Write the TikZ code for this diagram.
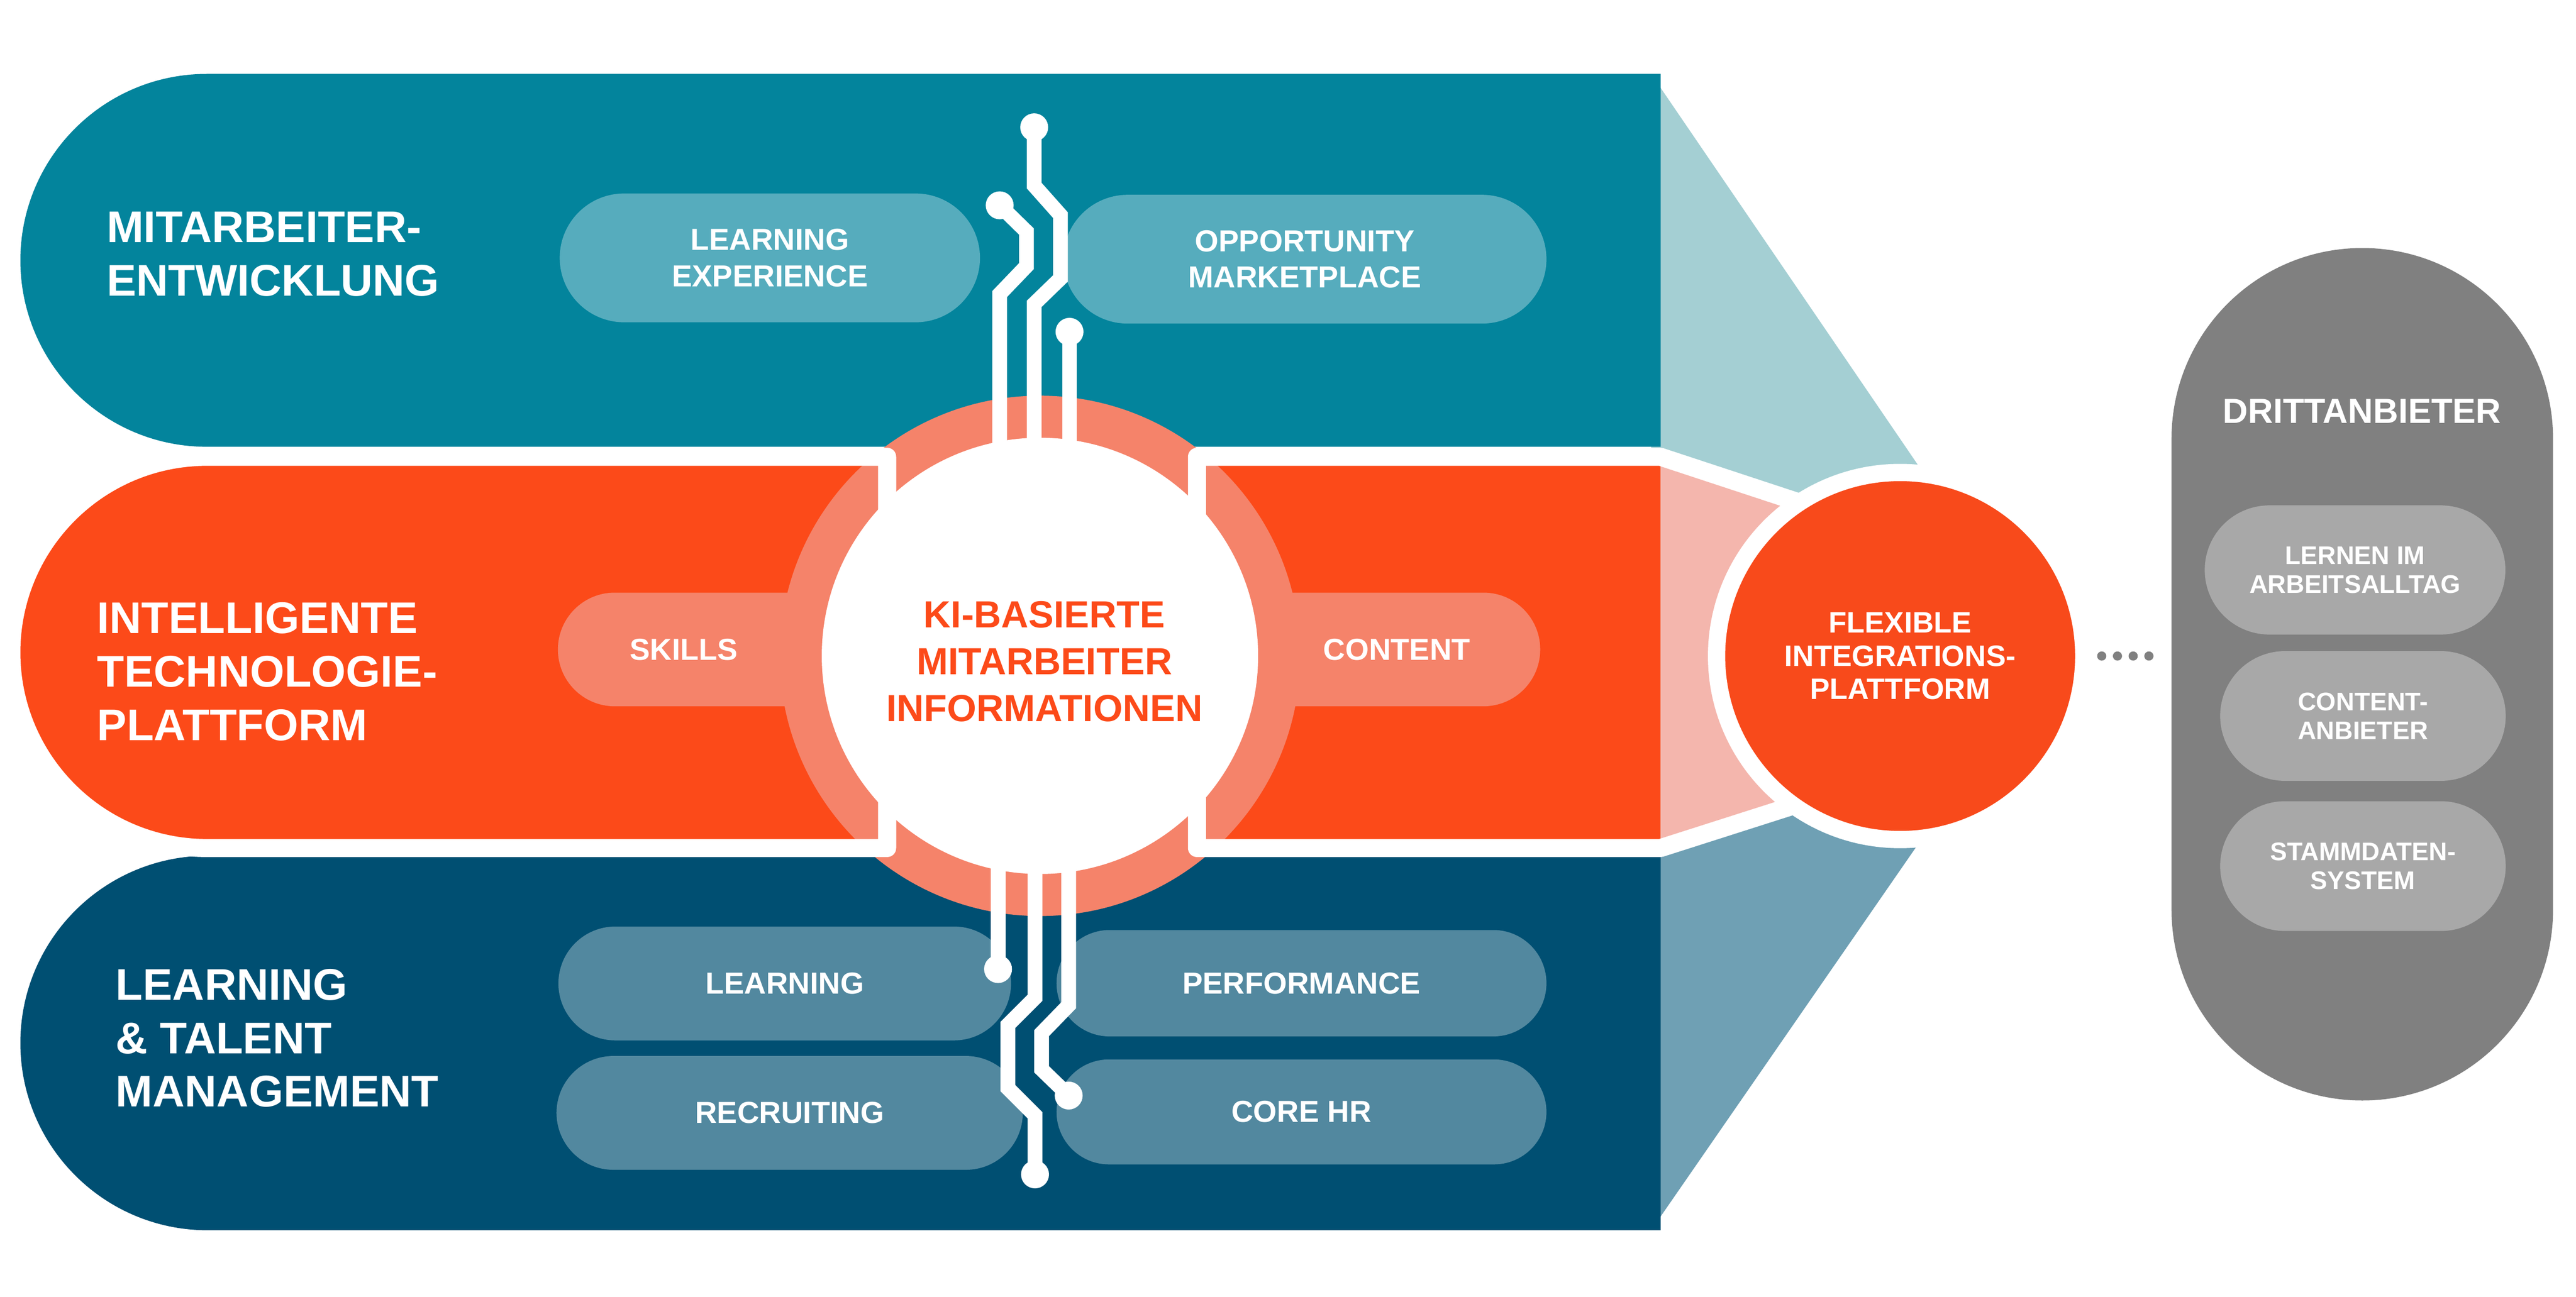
\documentclass[tikz,border=0pt]{standalone}
\usepackage{fontspec}
\setmainfont{Liberation Sans}
\usetikzlibrary{shapes.misc, positioning}
\definecolor{bandteal}{HTML}{03849C}
\definecolor{pillteal}{HTML}{56ACBD}
\definecolor{triteal}{HTML}{A4CFD3}
\definecolor{bandorange}{HTML}{FC4A19}
\definecolor{flexorange}{HTML}{F84A1B}
\definecolor{ringsalmon}{HTML}{F5836A}
\definecolor{pinktrap}{HTML}{F4B6AD}
\definecolor{bandnavy}{HTML}{004F72}
\definecolor{pillnavy}{HTML}{52889F}
\definecolor{triblue}{HTML}{6FA0B4}
\definecolor{capsgray}{HTML}{808080}
\definecolor{pillgray}{HTML}{A8A8A8}
\tikzset{band/.style={rounded rectangle, rounded rectangle right arc=none, inner sep=0pt, minimum width=998.4pt}}
\tikzset{bandtitle/.style={anchor=north west, inner sep=0pt, align=left, text=white, font=\bfseries\fontsize{27}{32.5}\selectfont}}
\tikzset{pill/.style={rounded rectangle, inner sep=0pt, align=center, text=white, font=\bfseries\fontsize{18.5}{22.2}\selectfont}}
\tikzset{graypill/.style={pill, fill=pillgray, minimum height=79pt, font=\bfseries\fontsize{15.5}{17.5}\selectfont}}
\tikzset{rim/.style={draw=white, line width=11pt, line join=round}}
\tikzset{trace/.style={white, line width=9pt}}
\tikzset{tracedot/.style={circle, fill=white, inner sep=0pt, minimum size=17pt}}

\begin{document}
\begin{tikzpicture}[x=1pt, y=-1pt, node distance=10pt]
\useasboundingbox (0,0) rectangle (1568,789.5);
\fill[white] (0,0) rectangle (1568,789.5);
\fill[triteal] (1005,45) -- (1246.5,399) -- (1005,399) -- cycle;
\fill[triblue] (1005,749) -- (1247,399) -- (1005,399) -- cycle;
\node[band, fill=bandteal, minimum height=227pt] (mitband) at (511.6,158.5) {};
\node[band, fill=bandnavy, minimum height=228pt] (ltmband) at (511.6,635) {};
\node[band, fill=bandorange, minimum width=533.1pt, minimum height=238.2pt] (techband) at (273.45,397.2) {};
\coordinate (r1) at (728.6,278.1);
\coordinate (r2) at (1010.8,278.1);
\coordinate (r3) at (1110,310.8);
\coordinate (r4) at (1110,484.6);
\coordinate (r5) at (1010.8,516.3);
\coordinate (r6) at (728.6,516.3);
\fill[pinktrap] (r1) -- (r2) -- (r3) -- (r4) -- (r5) -- (r6) -- cycle;
\fill[bandorange] (r1) rectangle (r5);
\node[circle, fill=ringsalmon, minimum size=316.8pt, inner sep=0pt] (ring) at (633,399.3) {};

\node[pill, fill=pillteal, minimum width=255.8pt, minimum height=78.4pt] (lxp) at (468.6,157) {LEARNING\\EXPERIENCE};
\node[pill, fill=pillteal, minimum width=294.1pt, minimum height=78.4pt] (opm) at (794.25,157.8) {OPPORTUNITY\\MARKETPLACE};
\node[pill, fill=ringsalmon, rounded rectangle right arc=none, minimum width=152.6pt, minimum height=69.2pt] (skills) at (416.2,395.4) {SKILLS};
\node[pill, fill=ringsalmon, rounded rectangle left arc=none, minimum width=174pt, minimum height=69.2pt] (content) at (850.2,395.4) {CONTENT};
\node[pill, fill=pillnavy, minimum width=275.5pt, minimum height=69.3pt] (learning) at (477.65,598.75) {LEARNING};
\node[pill, fill=pillnavy, minimum width=283.8pt, minimum height=69.3pt, below=9.1pt of learning, xshift=3pt] (recruiting) {RECRUITING};
\node[pill, fill=pillnavy, minimum width=298.2pt, minimum height=64.8pt] (performance) at (792.2,598.6) {PERFORMANCE};
\node[pill, fill=pillnavy, minimum width=298.2pt, minimum height=63.9pt, below=13.6pt of performance] (corehr) {CORE HR};

\node[band, rim, minimum width=533.1pt, minimum height=238.2pt] (techrim) at (techband) {};
\draw[rim] (r1) -- (r2) -- (r3) -- (r4) -- (r5) -- (r6) -- cycle;

\node[tracedot] (dA) at (629.5,77.5) {};
\node[tracedot] (dB) at (608.5,125) {};
\node[tracedot] (dC) at (651,202) {};
\node[tracedot] (dD) at (607.5,590) {};
\node[tracedot] (dE) at (630,715) {};
\node[tracedot] (dF) at (650.5,667) {};
\draw[trace] (dA.center) -- ++(0,35.5) -- ++(16,18) -- ++(0,38.5) -- ++(-16,15.5) -- (dA |- ring.center);
\draw[trace] (dB.center) -- ++(16.3,16) -- ++(0,21) -- ++(-16.3,17) -- (dB |- ring.center);
\draw[trace] (dC.center) -- (dC |- ring.center);
\draw[trace] (dD.center) -- (dD |- ring.center);
\draw[trace] (dE.center) -- ++(0,-36) -- ++(-16.5,-16.5) -- ++(0,-38.5) -- ++(16.5,-16.5) -- (dE |- ring.center);
\draw[trace] (dF.center) -- ++(-16.5,-16) -- ++(0,-22) -- ++(16.5,-17) -- (dF |- ring.center);

\node[circle, fill=white, minimum size=265.6pt, inner sep=0pt] (ki) at (ring) {};
\node[inner sep=0pt, align=center, text=bandorange, font=\bfseries\fontsize{23}{28.5}\selectfont] (kitext) at (635.7,402.7) {KI-BASIERTE\\MITARBEITER\\INFORMATIONEN};

\node[circle, fill=flexorange, draw=white, line width=10.5pt, minimum size=223.5pt, inner sep=0pt, align=center, text=white, font=\bfseries\fontsize{18}{20.2}\selectfont] (flex) at (1156.6,399.4) {FLEXIBLE\\INTEGRATIONS-\\PLATTFORM};

\node[bandtitle] (mittitle) at (64.8,128.9) {MITARBEITER-\\ENTWICKLUNG};
\node[bandtitle] (techtitle) at (59,366.6) {INTELLIGENTE\\TECHNOLOGIE-\\PLATTFORM};
\node[bandtitle] (ltmtitle) at (70.3,589.8) {LEARNING\\\& TALENT\\MANAGEMENT};

\node[rectangle, rounded corners=116.1pt, fill=capsgray, minimum width=232.2pt, minimum height=519pt] (dritt) at (1437.9,410.5) {};
\node[inner sep=0pt, text=white, font=\bfseries\fontsize{21.2}{24}\selectfont] (dritttitle) at (1437.7,250.4) {DRITTANBIETER};
\node[graypill, minimum width=183pt, minimum height=78.6pt] (lernen) at (1433.5,347) {LERNEN IM\\ARBEITSALLTAG};
\node[graypill, minimum width=173.8pt, below=9.7pt of lernen.south east, anchor=north east] (anbieter) {CONTENT-\\ANBIETER};
\node[graypill, minimum width=173.8pt, below=12pt of anbieter] (stamm) {STAMMDATEN-\\SYSTEM};
\foreach \i in {0,...,3}
  \fill[capsgray] ([xshift=5.7pt+9.57pt*\i]flex.east) circle (2.8);
\end{tikzpicture}
\end{document}
